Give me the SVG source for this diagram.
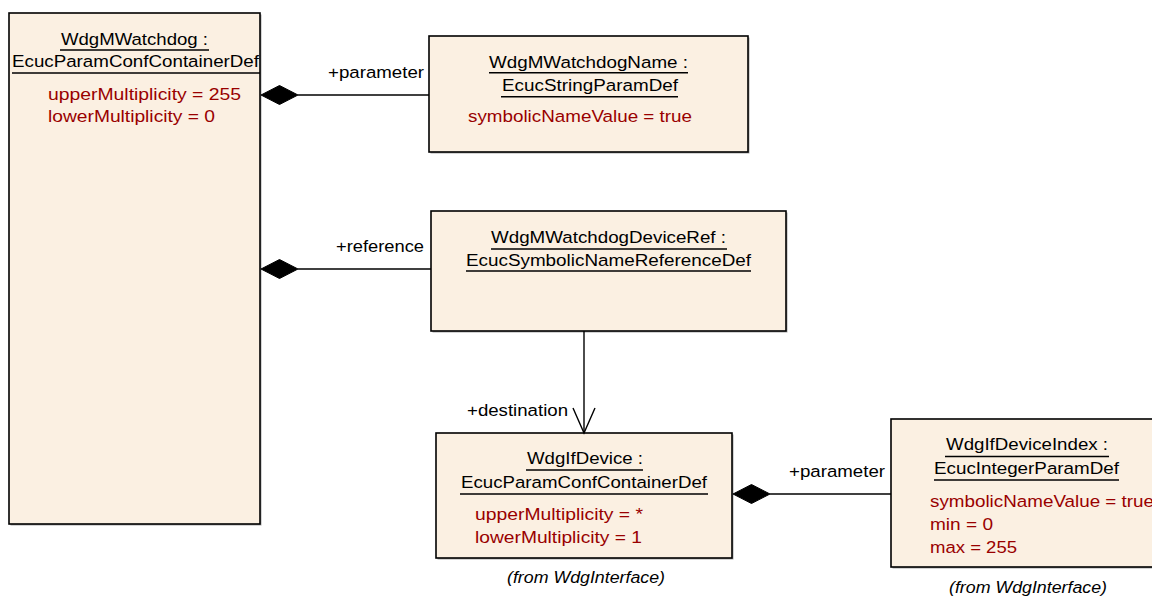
<svg xmlns="http://www.w3.org/2000/svg" width="1152" height="597" viewBox="0 0 1152 597">
<style>
text{font-family:"Liberation Sans",Arial,sans-serif;font-size:16.3px;fill:#000}
.attr{fill:#990000}
.it{font-style:italic}
.box{fill:#FBF0E2;stroke:#000;stroke-width:1.6}
.sh{fill:#a8a8a8}
.ul{stroke:#000;stroke-width:1.4}
.con{stroke:#000;stroke-width:1.4;fill:none}
.dia{fill:#000;stroke:#000;stroke-width:1}
</style>
<rect width="1152" height="597" fill="#fff"/>
<g id="WdgMWatchdog">
<rect class="sh" x="10.5" y="14.5" width="251" height="511"/>
<rect class="box" x="9" y="13" width="251" height="511"/>
<text x="61" y="45" textLength="147" lengthAdjust="spacingAndGlyphs">WdgMWatchdog :</text>
<line class="ul" x1="60" y1="50" x2="209" y2="50"/>
<text x="12" y="67" textLength="247" lengthAdjust="spacingAndGlyphs">EcucParamConfContainerDef</text>
<line class="ul" x1="12" y1="73" x2="260" y2="73"/>
<text class="attr" x="48" y="100" textLength="193" lengthAdjust="spacingAndGlyphs">upperMultiplicity = 255</text>
<text class="attr" x="48" y="122" textLength="167" lengthAdjust="spacingAndGlyphs">lowerMultiplicity = 0</text>
</g>
<g id="WdgMWatchdogName">
<rect class="sh" x="430.5" y="37.5" width="319" height="116"/>
<rect class="box" x="429" y="36" width="319" height="116"/>
<text x="489" y="67.5" textLength="199" lengthAdjust="spacingAndGlyphs">WdgMWatchdogName :</text>
<line class="ul" x1="489" y1="72.7" x2="688" y2="72.7"/>
<text x="502" y="91" textLength="176" lengthAdjust="spacingAndGlyphs">EcucStringParamDef</text>
<line class="ul" x1="501" y1="96.7" x2="678" y2="96.7"/>
<text class="attr" x="468" y="122" textLength="224" lengthAdjust="spacingAndGlyphs">symbolicNameValue = true</text>
</g>
<g id="WdgMWatchdogDeviceRef">
<rect class="sh" x="432.5" y="212.5" width="355" height="120"/>
<rect class="box" x="431" y="211" width="355" height="120"/>
<text x="491" y="243" textLength="235" lengthAdjust="spacingAndGlyphs">WdgMWatchdogDeviceRef :</text>
<line class="ul" x1="491" y1="249" x2="727" y2="249"/>
<text x="466" y="265.5" textLength="285" lengthAdjust="spacingAndGlyphs">EcucSymbolicNameReferenceDef</text>
<line class="ul" x1="466" y1="271" x2="751" y2="271"/>
</g>
<g id="WdgIfDevice">
<rect class="sh" x="437.5" y="434.5" width="296" height="125"/>
<rect class="box" x="436" y="433" width="296" height="125"/>
<text x="527" y="464" textLength="116" lengthAdjust="spacingAndGlyphs">WdgIfDevice :</text>
<line class="ul" x1="526" y1="470" x2="643" y2="470"/>
<text x="461" y="488" textLength="246" lengthAdjust="spacingAndGlyphs">EcucParamConfContainerDef</text>
<line class="ul" x1="460" y1="494" x2="708" y2="494"/>
<text class="attr" x="475" y="520" textLength="168" lengthAdjust="spacingAndGlyphs">upperMultiplicity = *</text>
<text class="attr" x="475" y="542.5" textLength="167" lengthAdjust="spacingAndGlyphs">lowerMultiplicity = 1</text>
<text class="it" x="507" y="583" textLength="158" lengthAdjust="spacingAndGlyphs">(from WdgInterface)</text>
</g>
<g id="WdgIfDeviceIndex">
<rect class="sh" x="892.5" y="420.5" width="270" height="148"/>
<rect class="box" x="891" y="419" width="270" height="148"/>
<text x="946" y="450" textLength="162" lengthAdjust="spacingAndGlyphs">WdgIfDeviceIndex :</text>
<line class="ul" x1="945" y1="456.5" x2="1109" y2="456.5"/>
<text x="934" y="474" textLength="185" lengthAdjust="spacingAndGlyphs">EcucIntegerParamDef</text>
<line class="ul" x1="934" y1="480" x2="1119" y2="480"/>
<text class="attr" x="930" y="506.5" textLength="224" lengthAdjust="spacingAndGlyphs">symbolicNameValue = true</text>
<text class="attr" x="930" y="530" textLength="63" lengthAdjust="spacingAndGlyphs">min = 0</text>
<text class="attr" x="930" y="552.5" textLength="87" lengthAdjust="spacingAndGlyphs">max = 255</text>
<text class="it" x="949" y="593" textLength="158" lengthAdjust="spacingAndGlyphs">(from WdgInterface)</text>
</g>
<g id="connectors">
<line class="con" x1="298" y1="95" x2="429" y2="95"/>
<polygon class="dia" points="261,95 279.5,85.5 298,95 279.5,104.5"/>
<text x="328" y="78" textLength="96" lengthAdjust="spacingAndGlyphs">+parameter</text>
<line class="con" x1="298" y1="269" x2="431" y2="269"/>
<polygon class="dia" points="261,269 279.5,259.5 298,269 279.5,278.5"/>
<text x="336" y="252" textLength="88" lengthAdjust="spacingAndGlyphs">+reference</text>
<line class="con" x1="584" y1="331" x2="584" y2="433"/>
<polyline class="con" points="573,408 584,433 595,408"/>
<text x="467" y="416" textLength="101" lengthAdjust="spacingAndGlyphs">+destination</text>
<line class="con" x1="770" y1="494" x2="891" y2="494"/>
<polygon class="dia" points="733,494 751.5,484.5 770,494 751.5,503.5"/>
<text x="789" y="476.5" textLength="96" lengthAdjust="spacingAndGlyphs">+parameter</text>
</g>
</svg>
